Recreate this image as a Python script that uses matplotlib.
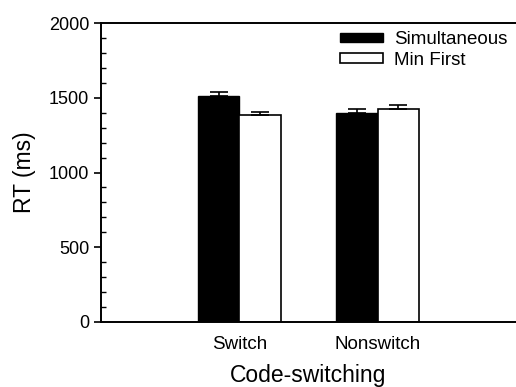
"""Reaction time by code-switching condition and presentation order."""

import matplotlib.pyplot as plt
import numpy as np
from matplotlib.ticker import MultipleLocator

plt.rcParams["font.family"] = ["Liberation Sans", "DejaVu Sans"]

categories = ["Switch", "Nonswitch"]
simultaneous = [1515, 1400]
simultaneous_err = [25, 27]
min_first = [1382, 1422]
min_first_err = [24, 30]

x = np.arange(1, len(categories) + 1)
width = 0.3

fig = plt.figure(figsize=(5.16, 3.87), dpi=100)
ax = fig.add_axes([101 / 516, 65 / 387, 415 / 516, 299 / 387])

err_style = dict(ecolor="black", elinewidth=1.2, capsize=6.5, capthick=1.2)
ax.bar(
    x - width / 2, simultaneous, width, color="black", edgecolor="black",
    linewidth=1.0, label="Simultaneous",
    yerr=[np.zeros(len(x)), simultaneous_err], error_kw=err_style,
)
ax.bar(
    x + width / 2, min_first, width, color="white", edgecolor="black",
    linewidth=1.2, label="Min First",
    yerr=[np.zeros(len(x)), min_first_err], error_kw=err_style,
)

ax.set_xlim(0, 3)
ax.set_ylim(0, 2000)
ax.set_xticks(x)
ax.set_xticklabels(categories)
ax.tick_params(axis="x", length=0, pad=10, labelsize=13.5)
ax.yaxis.set_major_locator(MultipleLocator(500))
ax.yaxis.set_minor_locator(MultipleLocator(100))
ax.tick_params(axis="y", which="major", direction="out", length=5, width=1.2,
               labelsize=13)
ax.tick_params(axis="y", which="minor", direction="in", length=3.5, width=1.0)

for side in ("left", "bottom", "top"):
    ax.spines[side].set_linewidth(1.4)
ax.spines["right"].set_visible(False)

ax.set_xlabel("Code-switching", fontsize=16.5, labelpad=8)
ax.set_ylabel("RT (ms)", fontsize=16.5, labelpad=9)

fig.legend(
    loc="upper left", bbox_to_anchor=(340 / 516, 1 - 31 / 387),
    frameon=False, fontsize=13.5, handlelength=2.3, handleheight=0.4,
    handletextpad=0.6, labelspacing=0.2, borderpad=0, borderaxespad=0,
)

fig.savefig("out.png", dpi=100)
